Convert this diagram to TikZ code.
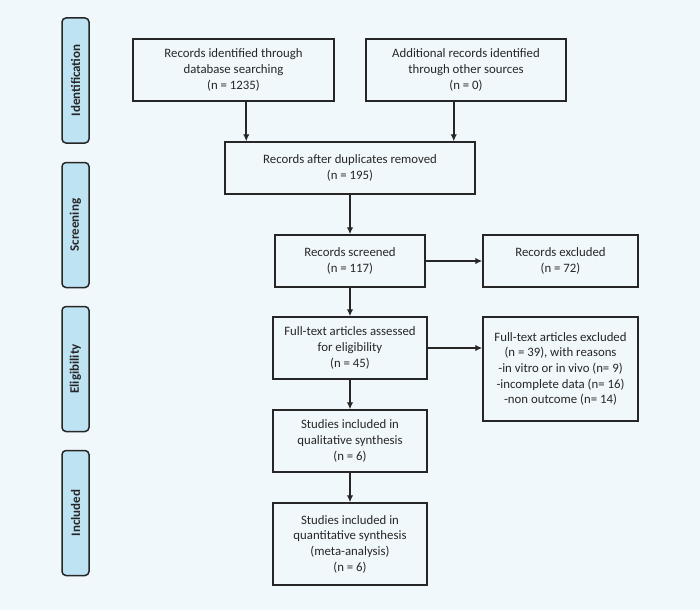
\documentclass[tikz,border=0pt]{standalone}
\usepackage{fontspec}
\setmainfont{Carlito}
\usepackage{tikz}
\usetikzlibrary{arrows.meta}

\definecolor{bgcol}{HTML}{F1F8FB}
\definecolor{barcol}{HTML}{BEE3F3}
\definecolor{linecol}{HTML}{262626}

\tikzset{
  box/.style={draw=linecol, line width=1.5pt, align=center, inner sep=0pt,
    font=\fontsize{12.8}{15.7}\selectfont, text=linecol},
  phase/.style={draw=linecol, line width=1.5pt, fill=barcol, rounded corners=4pt,
    minimum width=125pt, minimum height=27pt, rotate=90, inner sep=0pt,
    font=\bfseries\fontsize{13}{15}\selectfont, text=linecol},
  arr/.style={draw=linecol, line width=1.6pt, -{Latex[length=7pt,width=6.5pt]}},
}

\begin{document}
\begin{tikzpicture}[x=1pt, y=-1pt]

  \useasboundingbox[fill=bgcol] (0,0) rectangle (700,610);

  % phases
  \node (pid) [phase] at (75.5,80.5) {Identification};
  \node (psc) [phase] at (75.5,225) {Screening};
  \node (pel) [phase] at (75.5,369) {Eligibility};
  \node (pin) [phase] at (75.5,513) {Included};

  % boxes
  \node (db) [box, minimum width=201pt, minimum height=62pt] at (233.5,70)
    {Records identified through\\database searching\\(n = 1235)};
  \node (other) [box, minimum width=200pt, minimum height=62pt] at (466,70)
    {Additional records identified\\through other sources\\(n = 0)};
  \node (dup) [box, minimum width=250pt, minimum height=52pt] at (350,168)
    {Records after duplicates removed\\(n = 195)};
  \node (scr) [box, minimum width=150pt, minimum height=52pt] at (350,261)
    {Records screened\\(n = 117)};
  \node (exc) [box, minimum width=155pt, minimum height=52pt] at (560.5,261)
    {Records excluded\\(n = 72)};
  \node (full) [box, minimum width=154pt, minimum height=62pt] at (350,348)
    {Full-text articles assessed\\for eligibility\\(n = 45)};
  \node (fexc) [box, minimum width=155pt, minimum height=104pt] at (560.5,369)
    {Full-text articles excluded\\(n = 39), with reasons\\-in vitro or in vivo (n= 9)\\-incomplete data (n= 16)\\-non outcome (n= 14)};
  \node (qual) [box, minimum width=154pt, minimum height=62pt] at (350,441)
    {Studies included in\\qualitative synthesis\\(n = 6)};
  \node (quant) [box, minimum width=154pt, minimum height=82pt] at (350,544)
    {Studies included in\\quantitative synthesis\\(meta-analysis)\\(n = 6)};

  % arrows
  \draw[arr] ([xshift=22pt]dup.north west |- db.south) -- ([xshift=22pt]dup.north west);
  \draw[arr] ([xshift=-22pt]dup.north east |- other.south) -- ([xshift=-22pt]dup.north east);
  \path (dup) edge[arr] (scr);
  \path (scr) edge[arr] (exc);
  \path (scr) edge[arr] (full);
  \draw[arr] (full.east) -- (full.east -| fexc.west);
  \path (full) edge[arr] (qual);
  \path (qual) edge[arr] (quant);
\end{tikzpicture}
\end{document}
